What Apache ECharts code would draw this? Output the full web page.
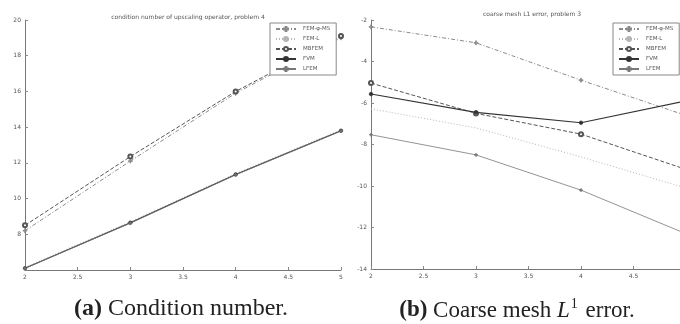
<!DOCTYPE html>
<html>
<head>
<meta charset="utf-8">
<script src="https://cdn.jsdelivr.net/npm/echarts@6/dist/echarts.min.js"></script>
<style>
  html, body { margin: 0; padding: 0; background: #fff; }
  #chart { width: 680px; height: 324px; }
</style>
</head>
<body>
<div id="chart"></div>
<script>
// grid sizes, number of coarse cells
const xSizes = [2, 3, 4, 5]
const seriesNames = ['FEM-φ-MS', 'FEM-L', 'MBFEM', 'FVM', 'LFEM']

// (a) condition number
const condFemMs = [8.2, 12.1, 15.9, 19.0]
const condFemL  = [6.15, 8.7, 11.4, 13.85]
const condMbfem = [8.5, 12.35, 16.0, 19.1]
const condFvm   = [6.1, 8.65, 11.35, 13.8]
const condLfem  = [6.1, 8.62, 11.33, 13.78]

// (b) coarse mesh L1 error (log)
const errFemMs = [-2.33, -3.1, -4.9, -6.6]
const errFemL  = [-6.28, -7.2, -8.6, -10.1]
const errMbfem = [-5.04, -6.5, -7.5, -9.2]
const errFvm   = [-5.57, -6.45, -6.95, -5.9]
const errLfem  = [-7.53, -8.5, -10.2, -12.3]

const xTicks = ['2', '2.5', '3', '3.5', '4', '4.5', '5']

const plus = 'path://M4,0h2v4h4v2h-4v4h-2v-4h-4v-2h4z'
const styles = {
    'FEM-φ-MS': { color: '#8a8a8a', type: [4, 2, 1, 2], width: 1, symbol: plus, symbolSize: 4 },
    'FEM-L':    { color: '#b5b5b5', type: [1, 2], width: 1, symbol: 'none', symbolSize: 0 },
    'MBFEM':    { color: '#555', type: [4, 2], width: 1, symbol: 'emptyCircle', symbolSize: 4 },
    'FVM':      { color: '#333', type: 'solid', width: 1.1, symbol: 'circle', symbolSize: 3.5 },
    'LFEM':     { color: '#777', type: 'solid', width: 0.8, symbol: plus, symbolSize: 3 }
}

function mk(name, values, idx) {
    const s = styles[name]
    return {
        name: name,
        type: 'line',
        xAxisIndex: idx,
        yAxisIndex: idx,
        data: xSizes.map((x, i) => [x, values[i]]),
        symbol: s.symbol,
        symbolSize: s.symbolSize,
        showSymbol: s.symbol !== 'none',
        lineStyle: { color: s.color, width: s.width, type: s.type },
        itemStyle: { color: s.color, borderColor: s.color, borderWidth: 0.8 },
        animation: false,
        z: 2
    }
}

const axisBase = {
    axisLine: { onZero: false, lineStyle: { color: '#777', width: 1 } },
    axisTick: { inside: true, length: 3, lineStyle: { color: '#888' } },
    splitLine: { show: false },
    axisLabel: { fontSize: 6, color: '#555', fontFamily: 'DejaVu Sans', margin: 4 }
}

function legendAt(left) {
    return {
        left: left,
        top: 23,
        orient: 'vertical',
        data: seriesNames,
        backgroundColor: '#fff',
        borderColor: '#888',
        borderWidth: 1,
        padding: [3, 6, 3, 5],
        itemWidth: 20,
        itemHeight: 5,
        itemGap: 4,
        textStyle: { fontSize: 5.5, color: '#555', fontFamily: 'DejaVu Sans', padding: [0, 0, 0, 2] },
        selectedMode: false,
        z: 10
    }
}

const chart = echarts.init(document.getElementById('chart'))
const option = {
    backgroundColor: '#fff',
    animation: false,
    title: [
        { text: 'condition number of upscaling operator, problem 4', left: 183, top: 9, textAlign: 'center',
          textStyle: { fontSize: 6, fontWeight: 'normal', color: '#555', fontFamily: 'DejaVu Sans' } },
        { text: 'coarse mesh L1 error, problem 3', left: 527, top: 6, textAlign: 'center',
          textStyle: { fontSize: 6, fontWeight: 'normal', color: '#555', fontFamily: 'DejaVu Sans' } },
        { text: '{b|(a)} Condition number.', left: 176, top: 292, textAlign: 'center',
          textStyle: { fontSize: 24, fontWeight: 'normal', color: '#222', fontFamily: 'Liberation Serif',
            rich: { b: { fontSize: 24, fontWeight: 'bold', color: '#222', fontFamily: 'Liberation Serif' } } } },
        { text: '{b|(b)} Coarse mesh {i|L}{s|1} error.', left: 512, top: 292, textAlign: 'center',
          textStyle: { fontSize: 23, fontWeight: 'normal', color: '#222', fontFamily: 'Liberation Serif',
            rich: {
                b: { fontSize: 23, fontWeight: 'bold', color: '#222', fontFamily: 'Liberation Serif' },
                i: { fontSize: 23, fontStyle: 'italic', color: '#222', fontFamily: 'Liberation Serif' },
                s: { fontSize: 14, color: '#222', fontFamily: 'Liberation Serif', padding: [0, 2, 13, 1] }
            } } }
    ],
    legend: [legendAt(270), legendAt(613)],
    grid: [
        { left: 25, top: 20, width: 316, height: 250, outerBoundsMode: 'none' },
        { left: 371, top: 20, width: 315, height: 249, outerBoundsMode: 'none' }
    ],
    xAxis: [
        Object.assign({}, axisBase, { type: 'value', gridIndex: 0, min: 2, max: 5, interval: 0.5,
            axisLabel: Object.assign({}, axisBase.axisLabel, { formatter: v => xTicks[Math.round((v - 2) * 2)] }) }),
        Object.assign({}, axisBase, { type: 'value', gridIndex: 1, min: 2, max: 5, interval: 0.5,
            axisLabel: Object.assign({}, axisBase.axisLabel, { formatter: v => xTicks[Math.round((v - 2) * 2)] }) })
    ],
    yAxis: [
        Object.assign({}, axisBase, { type: 'value', gridIndex: 0, min: 6, max: 20, interval: 2,
            axisLabel: Object.assign({}, axisBase.axisLabel, { formatter: v => v === 6 ? '' : String(v) }) }),
        Object.assign({}, axisBase, { type: 'value', gridIndex: 1, min: -14, max: -2, interval: 2 })
    ],
    series: [
        mk('FEM-φ-MS', condFemMs, 0),
        mk('FEM-L', condFemL, 0),
        mk('MBFEM', condMbfem, 0),
        mk('FVM', condFvm, 0),
        mk('LFEM', condLfem, 0),
        mk('FEM-φ-MS', errFemMs, 1),
        mk('FEM-L', errFemL, 1),
        mk('MBFEM', errMbfem, 1),
        mk('FVM', errFvm, 1),
        mk('LFEM', errLfem, 1)
    ]
}
chart.setOption(option)
</script>
</body>
</html>
